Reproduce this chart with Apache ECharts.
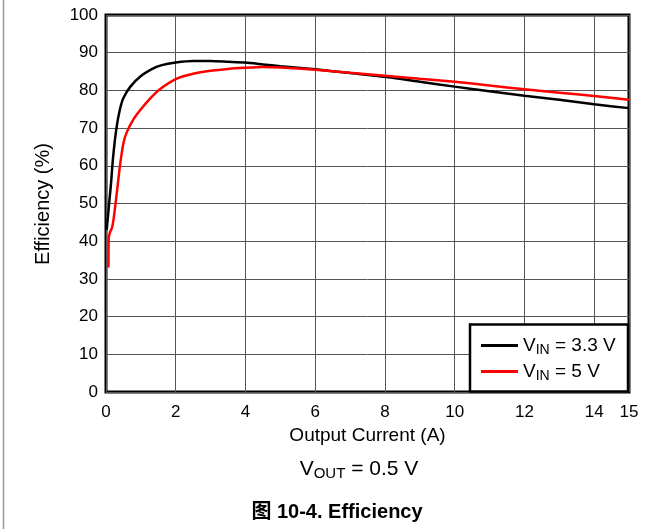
<!DOCTYPE html>
<html><head><meta charset="utf-8">
<script src="https://cdn.jsdelivr.net/npm/echarts@6/dist/echarts.min.js"></script>
<style>html,body{margin:0;padding:0;background:#fff}#c{width:662px;height:529px}</style>
</head><body><div id="c"></div>
<script>
// Output current (A) and efficiency (%) for V_IN = 3.3 V
var x33 = [0.02, 0.06, 0.1, 0.15, 0.2, 0.3, 0.4, 0.5, 0.7, 1.0, 1.3, 1.6, 2.0, 2.5, 3.0, 3.5, 4.0, 4.5, 5.0, 6, 7, 8, 9, 10, 11, 12, 13, 14, 15];
var y33 = [43, 47, 51, 56, 62, 70, 75, 78, 81, 83.8, 85.6, 86.7, 87.4, 87.8, 87.8, 87.6, 87.4, 86.9, 86.4, 85.6, 84.6, 83.6, 82.3, 81.0, 79.8, 78.6, 77.5, 76.3, 75.3];
// V_IN = 5 V
var x5 = [0.07, 0.08, 0.12, 0.17, 0.22, 0.3, 0.4, 0.5, 0.6, 0.8, 1.0, 1.25, 1.5, 2.0, 2.5, 3.0, 3.5, 4.0, 4.5, 5.0, 6, 7, 8, 9, 10, 11, 12, 13, 14, 15];
var y5 = [33, 41, 42.5, 43.5, 46, 52, 60, 66, 69, 72.5, 75, 77.7, 80, 83, 84.4, 85.2, 85.7, 86.0, 86.2, 86.1, 85.5, 84.7, 83.9, 83.1, 82.3, 81.3, 80.3, 79.4, 78.5, 77.5];
var seriesNames = ['VIN = 3.3 V', 'VIN = 5 V'];
var legendRich = ['{a|V}{s|IN}{a| = 3.3 V}', '{a|V}{s|IN}{a| = 5 V}'];
var xName = 'Output Current (A)';
var yName = 'Efficiency (%)';
var noteRich = '{a|V}{s|OUT}{a| = 0.5 V}';
var caption = '图 10-4. Efficiency';

function pairs(xs, ys){ return xs.map(function(v,i){ return [v, ys[i]]; }); }
var FF = '"Liberation Sans", Arial, "Noto Sans CJK SC", sans-serif';
var chart = echarts.init(document.getElementById('c'), null, {renderer:'canvas'});
chart.setOption({
  animation: false,
  backgroundColor: '#fff',
  grid: {left: 106, right: 33, top: 15, bottom: 137, show: true, borderColor: '#000', borderWidth: 3, backgroundColor: 'transparent'},
  xAxis: {type: 'value', min: 0, max: 15, interval: 2,
    axisLine: {show: false}, axisTick: {show: false},
    axisLabel: {fontSize: 17, color: '#000', fontFamily: FF, margin: 12},
    splitLine: {show: true, lineStyle: {color: '#555', width: 1}}},
  yAxis: {type: 'value', min: 0, max: 100, interval: 10,
    axisLine: {show: false}, axisTick: {show: false},
    axisLabel: {fontSize: 17, color: '#000', fontFamily: FF, margin: 8},
    splitLine: {show: true, lineStyle: {color: '#555', width: 1}}},
  legend: {orient: 'vertical', left: 476, top: 331, itemWidth: 37, itemHeight: 3, itemGap: 5, icon: 'rect',
    data: seriesNames, z: 10,
    formatter: function(n){ return legendRich[seriesNames.indexOf(n)]; },
    textStyle: {color: '#000', fontFamily: FF, fontSize: 19,
      rich: {a: {fontSize: 19, fontFamily: FF, color: '#000'}, s: {fontSize: 14, fontFamily: FF, color: '#000', padding: [9, 0, 0, 0]}}}},
  graphic: [
    {type: 'line', shape: {x1: 3.5, y1: 0, x2: 3.5, y2: 529}, style: {stroke: '#999', lineWidth: 1.5}},
    {type: 'rect', shape: {x: 470, y: 324.5, width: 158, height: 67}, style: {fill: '#fff', stroke: '#000', lineWidth: 2.5}, z: 5},
    {type: 'text', x: 367.5, y: 436, style: {text: xName, fontSize: 19, fontFamily: FF, fill: '#000', align: 'center', verticalAlign: 'middle'}},
    {type: 'text', x: 43, y: 204, rotation: Math.PI/2, style: {text: yName, fontSize: 20, fontFamily: FF, fill: '#000', align: 'center', verticalAlign: 'middle'}},
    {type: 'text', x: 359, y: 469, style: {text: noteRich, fontFamily: FF, fill: '#000', align: 'center', verticalAlign: 'middle',
      rich: {a: {fontSize: 21, fontFamily: FF, color: '#000'}, s: {fontSize: 15, fontFamily: FF, color: '#000', padding: [10, 0, 0, 0]}}}},
    {type: 'text', x: 337, y: 512, style: {text: caption, fontSize: 20, fontWeight: 'bold', fontFamily: FF, fill: '#000', align: 'center', verticalAlign: 'middle'}}
  ],
  series: [
    {name: seriesNames[0], type: 'line', data: pairs(x33, y33), showSymbol: false, symbol: 'none', smooth: 0.2,
      lineStyle: {color: '#000', width: 2.5}, itemStyle: {color: '#000'}, z: 3},
    {name: seriesNames[1], type: 'line', data: pairs(x5, y5), showSymbol: false, symbol: 'none', smooth: 0.2,
      lineStyle: {color: '#ff0000', width: 2.5}, itemStyle: {color: '#ff0000'}, z: 3}
  ]
});
</script></body></html>
